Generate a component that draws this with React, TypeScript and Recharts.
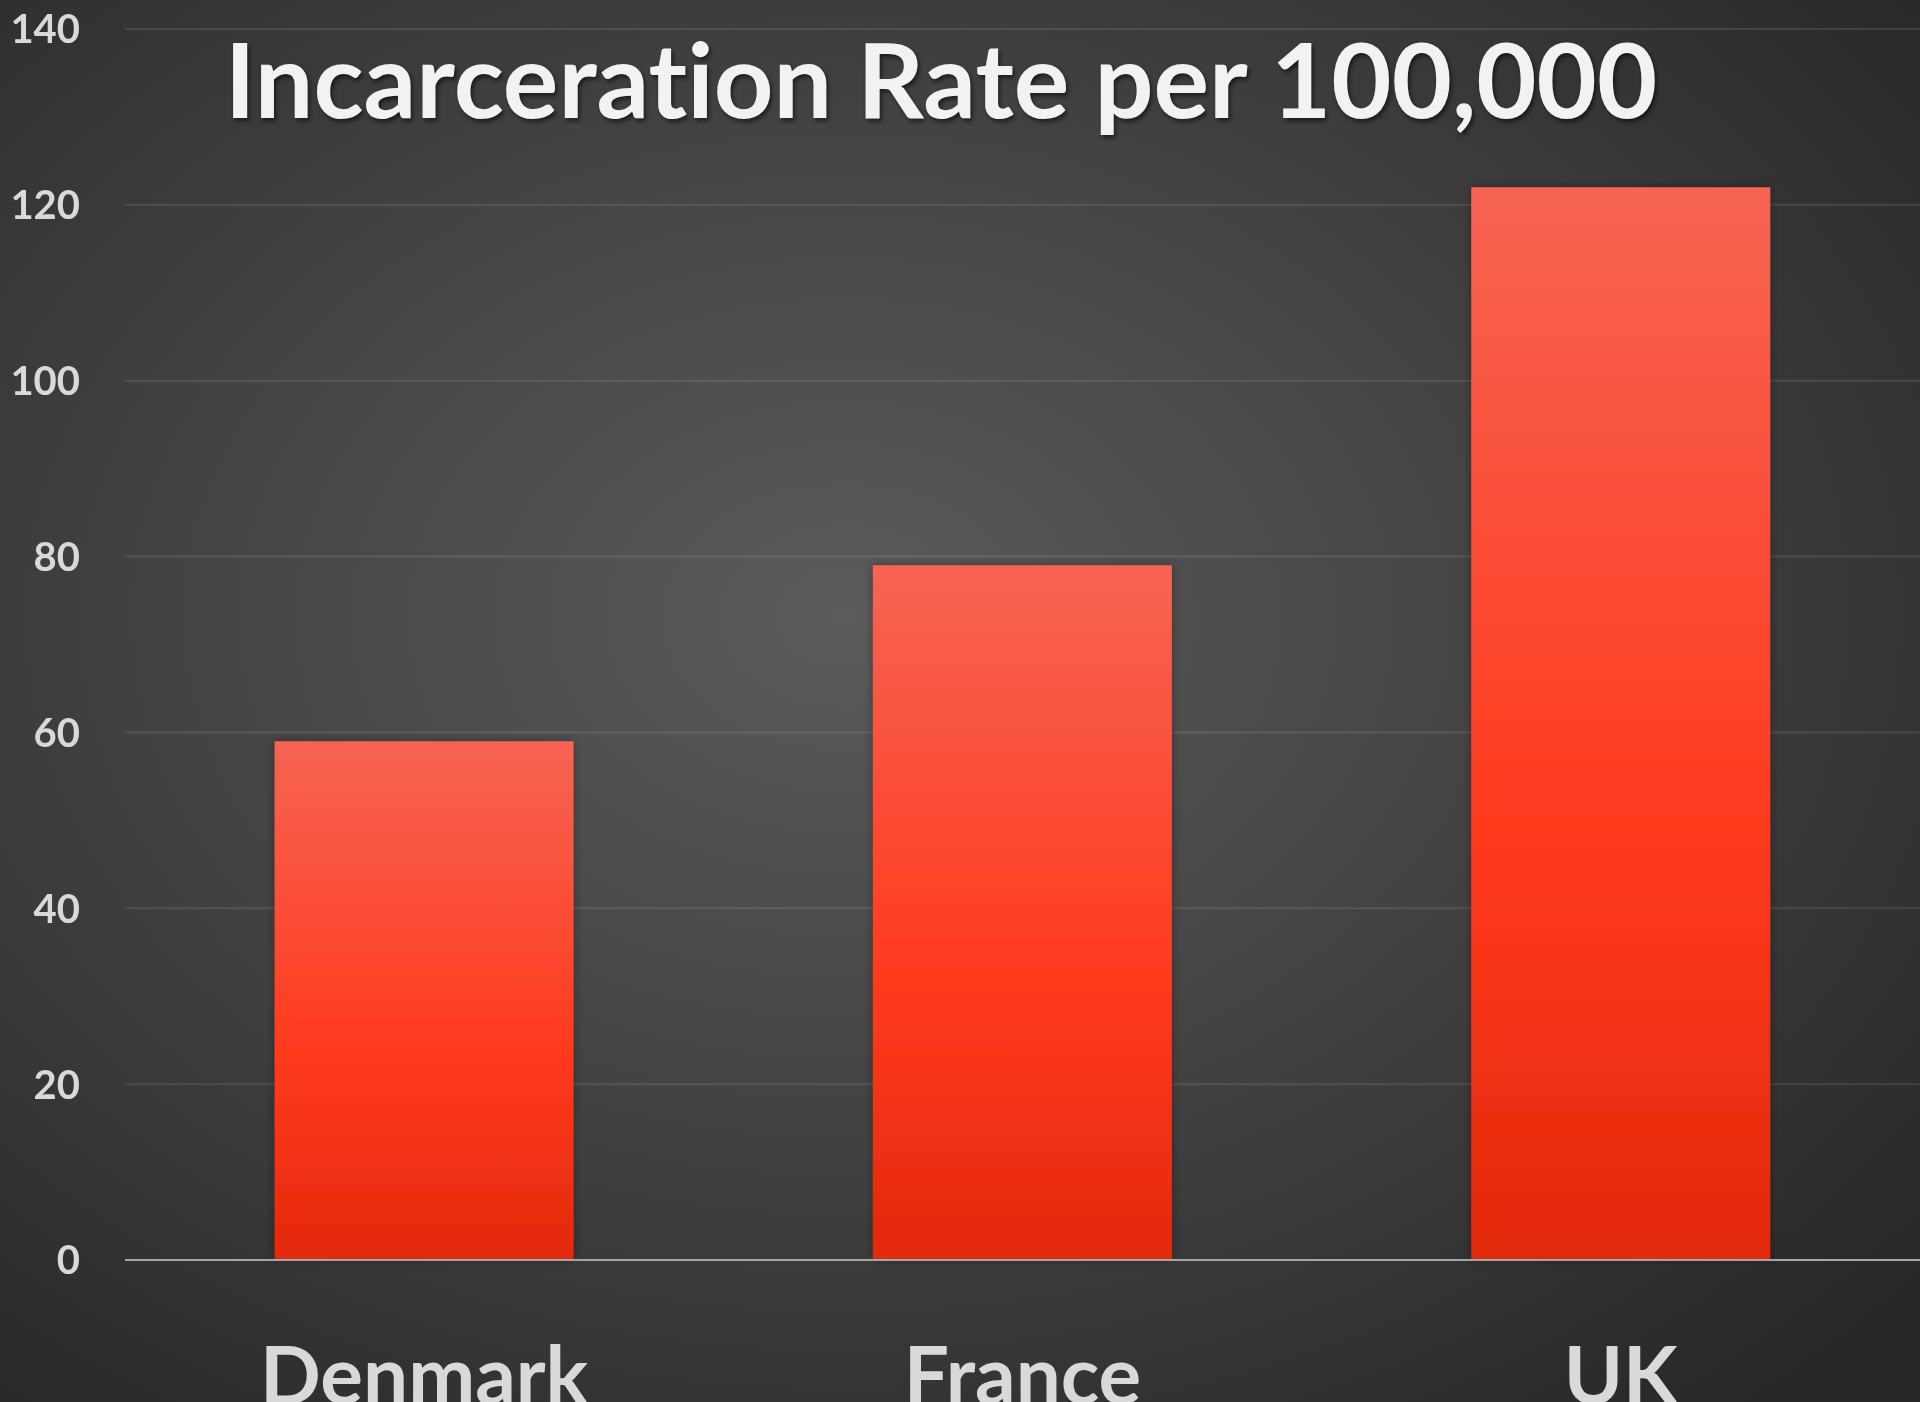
import React from 'react'
import { BarChart, Bar, XAxis, YAxis, CartesianGrid } from 'recharts'

const countries = ['Denmark', 'France', 'UK']
const rates = [59, 79, 122]
const yTicks = [0, 20, 40, 60, 80, 100, 120, 140]

const data = countries.map((name, i) => ({ name, rate: rates[i] }))

const W = 1920
const H = 1402
const FONT = 'Lato, "Open Sans", sans-serif'

const YTick = (props: any) => {
  const { y, payload } = props
  return (
    <text x={80} y={y} dy="0.36em" textAnchor="end" fill="#d9d9d9" fontSize={40} fontWeight={700} fontFamily={FONT}>
      {payload.value}
    </text>
  )
}

const XTick = (props: any) => {
  const { x, y, payload } = props
  return (
    <text x={x} y={y + 136} textAnchor="middle" fill="#d9d9d9" fontSize={80} fontWeight={700} fontFamily={FONT}>
      {payload.value}
    </text>
  )
}

export default function App() {
  return (
    <div
      style={{
        position: 'fixed', top: 0, left: 0, width: W, height: H, overflow: 'hidden',
        background: 'radial-gradient(ellipse 75% 75% at 44% 44%, #5b5b5b 0%, #444444 45%, #262626 100%)',
      }}
    >
      <div style={{ position: 'absolute', top: 18, left: 0, width: W, textAlign: 'center' }}>
        <span
          style={{
            display: 'inline-block', marginLeft: -38,
            fontFamily: FONT, fontWeight: 700, fontSize: 104, color: '#f2f2f2',
            fontVariantLigatures: 'none',
            textShadow: '2px 3px 4px rgba(0,0,0,0.55)', lineHeight: '120px',
          }}
        >
          Incarceration Rate per 100,000
        </span>
      </div>
      <div style={{ position: 'absolute', top: 0, left: 0 }}>
        <BarChart width={W} height={H} data={data} margin={{ top: 29, right: 0, left: 0, bottom: 0 }} barCategoryGap="25%">
          <defs>
            <linearGradient id="barFill" x1="0" y1="0" x2="0" y2="1">
              <stop offset="0%" stopColor="#f66453" />
              <stop offset="60%" stopColor="#ff3a1e" />
              <stop offset="100%" stopColor="#e3290b" />
            </linearGradient>
            <filter id="barShadow" x="-10%" y="-10%" width="120%" height="120%">
              <feDropShadow dx="0" dy="0" stdDeviation="5" floodColor="#000" floodOpacity="0.35" />
            </filter>
          </defs>
          <CartesianGrid vertical={false} stroke="rgba(255,255,255,0.1)" strokeWidth={2} />
          <XAxis
            dataKey="name"
            height={142}
            axisLine={{ stroke: '#a6a6a6', strokeWidth: 2 }}
            tickLine={false}
            tick={<XTick />}
            interval={0}
          />
          <YAxis
            width={125}
            domain={[0, 140]}
            ticks={yTicks}
            axisLine={false}
            tickLine={false}
            tick={<YTick />}
            interval={0}
          />
          <Bar dataKey="rate" fill="url(#barFill)" isAnimationActive={false} style={{ filter: 'url(#barShadow)' }} />
        </BarChart>
      </div>
    </div>
  )
}
